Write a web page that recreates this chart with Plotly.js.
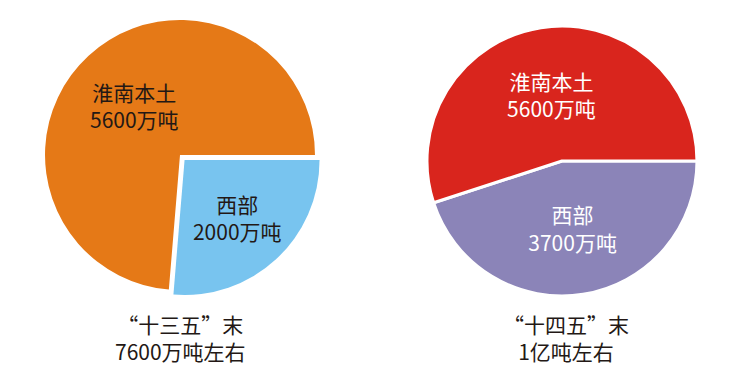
<!DOCTYPE html>
<html>
<head>
<meta charset="utf-8">
<script src="https://cdn.plot.ly/plotly-3.0.1.min.js"></script>
<style>html,body{margin:0;padding:0;background:#fff;}#chart{width:750px;height:381px;}</style>
</head>
<body>
<div id="chart"></div>
<script>
// Left pie: end of 13th Five-Year Plan
var leftLabels = ["西部", "淮南本土"];
var leftValues = [2000, 5600];
var leftText = ["西部<br>2000万吨", "淮南本土<br>5600万吨"];
var leftColors = ["#78C4EF", "#E57917"];
var leftCaption = "“十三五”末<br>7600万吨左右";

// Right pie: end of 14th Five-Year Plan (slice shares as drawn in the picture, %)
var rightLabels = ["西部", "淮南本土"];
var rightShares = [45, 55];
var rightText = ["西部<br>3700万吨", "淮南本土<br>5600万吨"];
var rightColors = ["#8B84B8", "#D9251D"];
var rightCaption = "“十四五”末<br>1亿吨左右";

var font = "Noto Sans CJK SC, Noto Sans, sans-serif";

var traces = [
  {
    type: "pie",
    labels: leftLabels,
    values: leftValues,
    text: leftText,
    textinfo: "text",
    textposition: "inside",
    insidetextorientation: "horizontal",
    hoverinfo: "none",
    sort: false,
    direction: "clockwise",
    rotation: 90,
    pull: [0.05, 0],
    marker: {colors: leftColors, line: {color: "#ffffff", width: 0}},
    textfont: {family: font, size: 21, color: "#231815"},
    domain: {x: [0.051, 0.429], y: [0.2212, 0.9652]},
    showlegend: false
  },
  {
    type: "pie",
    labels: rightLabels,
    values: rightShares,
    text: rightText,
    textinfo: "text",
    textposition: "inside",
    insidetextorientation: "horizontal",
    hoverinfo: "none",
    sort: false,
    direction: "clockwise",
    rotation: 90,
    marker: {colors: rightColors, line: {color: "#ffffff", width: 3}},
    textfont: {family: font, size: 21, color: "#ffffff"},
    domain: {x: [0.5693, 0.9293], y: [0.2231, 0.9317]},
    showlegend: false
  }
];

var layout = {
  width: 750,
  height: 381,
  margin: {l: 0, r: 0, t: 0, b: 0},
  paper_bgcolor: "#ffffff",
  showlegend: false,
  annotations: [
    {text: leftCaption, x: 180, y: 337, xref: "x", yref: "y", showarrow: false,
     font: {family: font, size: 21, color: "#231815"}, align: "center"},
    {text: rightCaption, x: 566, y: 337, xref: "x", yref: "y", showarrow: false,
     font: {family: font, size: 21, color: "#231815"}, align: "center"}
  ],
  xaxis: {range: [0, 750], visible: false, fixedrange: true},
  yaxis: {range: [381, 0], visible: false, fixedrange: true}
};

Plotly.newPlot("chart", traces, layout, {displayModeBar: false, staticPlot: true});
</script>
</body>
</html>
